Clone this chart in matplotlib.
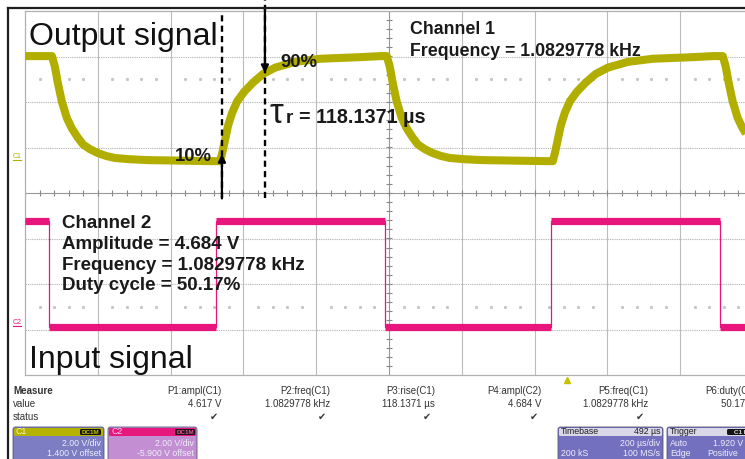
import numpy as np
import matplotlib
matplotlib.use('Agg')

import matplotlib.pyplot as plt
from matplotlib.patches import FancyBboxPatch

plt.rcParams['font.family'] = ['Liberation Sans', 'DejaVu Sans']

# Scope settings
us_per_div = 200.0
volts_per_div = 2.0
c1_offset = 1.400
c2_offset = -5.900

# Channel 2 - input square wave (edge times in us, fall first)
c2_low = 0.0
c2_high = 4.684
c2_edges_us = [66, 525, 989, 1445, 1909]

# Channel 1 - output response (edge times in us, fall first)
c1_low = 0.0
c1_high = 4.617
c1_edges_us = [74, 536, 994, 1450, 1917]

# Edge shapes of the output trace: time after edge (us) vs fraction of the swing
rise_dt_us = [0, 6, 11, 22, 33, 47, 66, 91, 118, 151, 206, 275, 385, 440]
rise_frac = [0, 0.08, 0.16, 0.34, 0.46, 0.57, 0.66, 0.75, 0.83, 0.89, 0.945, 0.975, 0.99, 1.0]
fall_dt_us = [0, 8, 16, 27, 41, 55, 70, 85, 104, 124, 148, 173, 215, 261, 440]
fall_frac = [0, 0.10, 0.25, 0.43, 0.59, 0.69, 0.77, 0.84, 0.885, 0.92, 0.95, 0.97, 0.982, 0.99, 1.0]

# Rise time markers
rise_time_us = 118.1371
t10_us = 541.0
trigger_us = 1489.0

# Measurement panel
meas_names = ['P1:ampl(C1)', 'P2:freq(C1)', 'P3:rise(C1)', 'P4:ampl(C2)', 'P5:freq(C1)', 'P6:duty(C2)']
meas_values = ['4.617 V', '1.0829778 kHz', '118.1371 \u00b5s', '4.684 V', '1.0829778 kHz', '50.17 %']

yellow = '#b2ae00'
pink = '#e8157c'


def to_screen(v, offset):
    return (np.asarray(v, dtype=float) + offset) / volts_per_div


def build_c1():
    t = [0.0]
    v = [c1_high]
    level = c1_high
    for i, te in enumerate(c1_edges_us):
        if i % 2 == 0:
            dts, fr, start, end = fall_dt_us, fall_frac, c1_high, c1_low
        else:
            dts, fr, start, end = rise_dt_us, rise_frac, c1_low, c1_high
        for dt, f in zip(dts, fr):
            t.append(te + dt)
            v.append(start + (end - start) * f)
        level = end
    t.append(2100.0)
    v.append(level)
    return np.array(t), np.array(v)


fig = plt.figure(figsize=(7.45, 4.59), dpi=100)
fig.patch.set_facecolor('white')

# Graticule: 10 x 8 divisions
ax = fig.add_axes([25 / 745, 84 / 459, 728 / 745, 364 / 459])
ax.set_xlim(0, 10 * us_per_div)
ax.set_ylim(-4, 4)
ax.set_xticks([])
ax.set_yticks([])
for s in ax.spines.values():
    s.set_color('#b0b0b0')
    s.set_linewidth(0.9)

grid_col = '#bcbcbc'
for i in range(1, 10):
    ax.axvline(i * us_per_div, color=grid_col if i != 5 else '#999999', lw=0.8, zorder=1)
for j in range(-3, 4):
    ax.axhline(j, color=grid_col if j != 0 else '#999999', lw=0.8,
               ls=(0, (1.2, 0.8)) if j != 0 else '-', zorder=1)

# minor ticks on the centre lines
minor_x = np.arange(0, 10 * us_per_div + 1, us_per_div / 5)
minor_y = np.arange(-4, 4.01, 0.2)
ax.vlines(minor_x, -0.07, 0.07, color='#888888', lw=0.8, zorder=1)
ax.hlines(minor_y, 5 * us_per_div - 9, 5 * us_per_div + 9, color='#888888', lw=0.8, zorder=1)

# dotted reference rows
dot_x = [x for k, x in enumerate(minor_x) if k % 5 != 0]
for yy in (2.5, -2.5):
    ax.plot(dot_x, [yy] * len(dot_x), ls='none', marker='s', ms=1.1,
            color='#c4c4c4', zorder=1)

# Channel 2 trace
c2_t = [0.0]
c2_v = [c2_high]
level = c2_high
for i, te in enumerate(c2_edges_us):
    new = c2_low if i % 2 == 0 else c2_high
    c2_t += [te, te]
    c2_v += [level, new]
    level = new
c2_t.append(2100.0)
c2_v.append(level)
c2_t = np.array(c2_t)
c2_y = to_screen(c2_v, c2_offset)
ax.plot(c2_t, c2_y, color=pink, lw=0.9, zorder=3)
for k in range(0, len(c2_t) - 1, 2):
    ax.plot(c2_t[k:k + 2], c2_y[k:k + 2], color=pink, lw=5.2,
            solid_capstyle='butt', zorder=3)

# Channel 1 trace
c1_t, c1_v = build_c1()
c1_y = to_screen(c1_v, c1_offset)
ax.plot(c1_t, c1_y, color=yellow, lw=5.8, solid_joinstyle='round',
        solid_capstyle='butt', zorder=3)

# Rise time markers
t90_us = t10_us + rise_time_us
y10 = np.interp(t10_us, c1_t, c1_y)
y90 = np.interp(t90_us, c1_t, c1_y)
dash = (0, (2.6, 1.8))
ax.plot([t10_us, t10_us], [-0.1, 3.95], color='black', lw=1.7, ls=dash,
        clip_on=False, zorder=4)
ax.plot([t90_us, t90_us], [-0.1, 4.24], color='black', lw=1.7, ls=dash,
        clip_on=False, zorder=4)
arrow = dict(arrowstyle='-|>', color='black', lw=1.6, mutation_scale=11,
             shrinkA=0, shrinkB=0)
ax.annotate('', xy=(t90_us, y90), xytext=(t90_us, 4.07), arrowprops=arrow,
            annotation_clip=False, zorder=5)
ax.annotate('', xy=(t10_us, y10), xytext=(t10_us, -0.12), arrowprops=arrow,
            annotation_clip=False, zorder=5)

# trigger position marker
ax.plot(trigger_us, -4.1, marker='^', ms=5, color='#c8c000', clip_on=False, zorder=5)

# Overlay in pixel units for labels and the panel below the graticule
ov = fig.add_axes([0, 0, 1, 1], zorder=3)
ov.set_xlim(0, 745)
ov.set_ylim(459, 0)
ov.axis('off')
ov.patch.set_alpha(0)

ov.plot([8, 8], [8, 459], color='#1e1e1e', lw=1.6)
ov.plot([8, 745], [8, 8], color='#1e1e1e', lw=1.6)

# channel ground markers
ov.text(13, 158, 'C1', color=yellow, fontsize=5, va='baseline')
ov.plot([13, 21], [160, 160], color=yellow, lw=0.8)
ov.text(13, 324, 'C2', color=pink, fontsize=5, va='baseline')
ov.plot([13, 21], [326, 326], color=pink, lw=0.8)

# big labels
ov.text(29, 45, 'Output signal', fontsize=23, va='baseline', color='#111111')
ov.text(29, 368, 'Input signal', fontsize=23, va='baseline', color='#111111')

bold = dict(fontweight='bold', va='baseline', color='#1a1a1a')
ov.text(410, 34, 'Channel 1', fontsize=12.8, **bold)
ov.text(410, 56, 'Frequency = 1.0829778 kHz', fontsize=12.8, **bold)
ov.text(62, 228, 'Channel 2', fontsize=13.5, **bold)
ov.text(62, 249, 'Amplitude = 4.684 V', fontsize=13.5, **bold)
ov.text(62, 270, 'Frequency = 1.0829778 kHz', fontsize=13.5, **bold)
ov.text(62, 290, 'Duty cycle = 50.17%', fontsize=13.5, **bold)

ov.text(280, 67, '90%', fontsize=13.3, **bold)
ov.text(175, 161, '10%', fontsize=13.3, **bold)
ov.text(270, 123, '\u03c4', fontsize=25, va='baseline', color='#1a1a1a')
ov.text(286, 123, 'r', fontsize=13.5, **bold)
ov.text(299, 123, '= 118.1371 \u00b5s', fontsize=14.2, **bold)

# measurement table
small = dict(fontsize=7, color='#333333', va='center')
ov.text(13, 391, 'Measure', fontweight='bold', **small)
ov.text(13, 404, 'value', **small)
ov.text(13, 417, 'status', **small)
col_right = [222, 330, 435, 542, 648, 757]
for xr, name, val in zip(col_right, meas_names, meas_values):
    ov.text(xr, 391, name, ha='right', **small)
    ov.text(xr, 404, val, ha='right', **small)
    ov.text(xr - 4, 417, '\u2714', ha='right', fontsize=7, color='#3a3a3a',
            va='center', family='DejaVu Sans')


def box(x0, x1, head_col, body_col):
    ov.add_patch(FancyBboxPatch((x0, 427), x1 - x0, 40,
                                boxstyle='round,pad=0,rounding_size=2.5',
                                fc=body_col, ec='#55557a', lw=0.6))
    ov.add_patch(FancyBboxPatch((x0 + 1, 428), x1 - x0 - 2, 8,
                                boxstyle='round,pad=0,rounding_size=1.5',
                                fc=head_col, ec='none'))


def badge(x0, x1, text, col):
    ov.add_patch(FancyBboxPatch((x0, 429), x1 - x0, 6,
                                boxstyle='round,pad=0,rounding_size=1.5',
                                fc='#151515', ec='none'))
    ov.text((x0 + x1) / 2, 432.2, text, fontsize=4.5, color=col,
            ha='center', va='center', fontweight='bold')


tiny = dict(fontsize=6.3, va='center')
body_txt = '#eeeefa'

box(13, 104, '#b6b200', '#7d7dc4')
ov.text(16, 432, 'C1', color='#f5f5d8', **tiny)
badge(80, 101, 'DC1M', '#c8c400')
ov.text(101, 443, '2.00 V/div', ha='right', color=body_txt, **tiny)
ov.text(101, 454, '1.400 V offset', ha='right', color=body_txt, **tiny)

box(108, 197, '#e6187e', '#c48fd2')
ov.text(111, 432, 'C2', color='#ffd6ea', **tiny)
badge(175, 195, 'DC1M', '#ff4fa0')
ov.text(194, 443, '2.00 V/div', ha='right', color=body_txt, **tiny)
ov.text(194, 454, '-5.900 V offset', ha='right', color=body_txt, **tiny)

box(558, 663, '#d8d8e8', '#7470c0')
ov.text(561, 432, 'Timebase', color='#202020', **tiny)
ov.text(660, 432, '492 \u00b5s', ha='right', color='#202020', **tiny)
ov.text(660, 443, '200 \u00b5s/div', ha='right', color=body_txt, **tiny)
ov.text(561, 454, '200 kS', color=body_txt, **tiny)
ov.text(660, 454, '100 MS/s', ha='right', color=body_txt, **tiny)

box(667, 770, '#d8d8e8', '#7470c0')
ov.text(670, 432, 'Trigger', color='#202020', **tiny)
badge(727, 760, 'C1 DC', '#dddddd')
ov.text(670, 443, 'Auto', color=body_txt, **tiny)
ov.text(713, 443, '1.920 V', color=body_txt, **tiny)
ov.text(670, 454, 'Edge', color=body_txt, **tiny)
ov.text(707, 454, 'Positive', color=body_txt, **tiny)

fig.savefig('out.png', dpi=100, facecolor='white')
